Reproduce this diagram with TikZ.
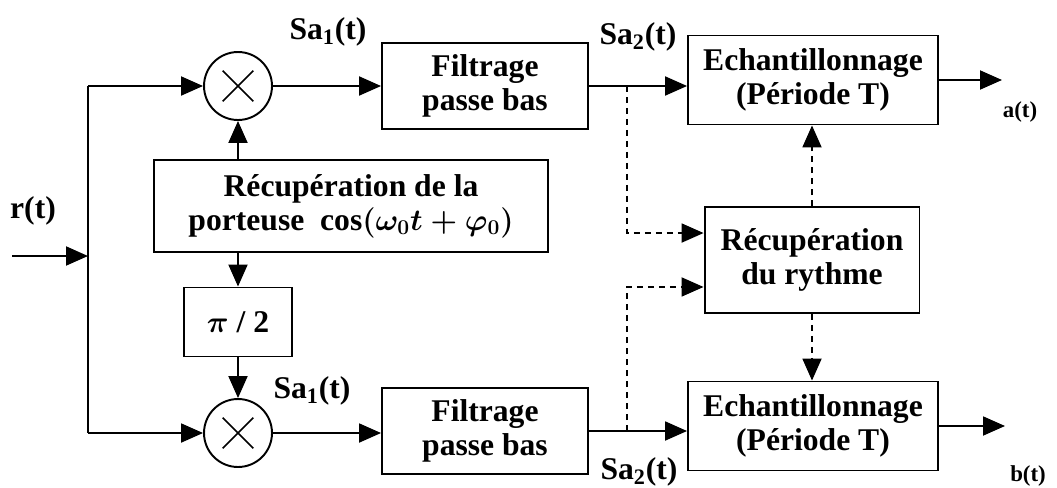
\documentclass[tikz,border=0pt]{standalone}
\usepackage{fontspec}
\setmainfont{Liberation Serif}
\usetikzlibrary{arrows.meta,calc}

\begin{document}
\begin{tikzpicture}[x=0.02cm,y=-0.02cm,
    every node/.style={font=\fontsize{18}{19.5}\selectfont\bfseries},
    blk/.style={draw,line width=1.1pt,align=center,inner sep=0pt},
    mult/.style={draw,circle,line width=1.1pt,minimum size=1.36cm,inner sep=0pt},
    wire/.style={line width=1.1pt},
    sig/.style={wire,-{Triangle[length=4.4mm,width=3.8mm]}},
    dsig/.style={sig,dash pattern=on 1.2mm off 1mm},
    small/.style={font=\fontsize{13}{15}\selectfont\bfseries}]
  \useasboundingbox (0,0) rectangle (1057,487);

  % blocs
  \node[mult] (m1) at (238,86) {};
  \node[mult] (m2) at (238,433) {};
  \node[blk,minimum width=7.88cm,minimum height=1.84cm] (port) at (351,206)
    {R\'ecup\'eration de la\\ porteuse\ \ cos{\boldmath$\bigl(\omega_0 t + \varphi_0\bigr)$}};
  \node[blk,minimum width=2.16cm,minimum height=1.38cm] (dephase) at (238,322) {{\boldmath$\pi$} / 2};
  \node[blk,minimum width=4.12cm,minimum height=1.72cm] (filt1) at (485,86) {Filtrage\\ passe bas};
  \node[blk,minimum width=4.12cm,minimum height=1.72cm] (filt2) at (485,431) {Filtrage\\ passe bas};
  \node[blk,minimum width=5.0cm,minimum height=1.78cm] (ech1) at (813,80) {Echantillonnage\\ (P\'eriode T)};
  \node[blk,minimum width=5.0cm,minimum height=1.78cm] (ech2) at (813,426) {Echantillonnage\\ (P\'eriode T)};
  \node[blk,minimum width=4.3cm,minimum height=2.12cm] (rythme) at (812,260) {R\'ecup\'eration\\ du rythme};

  % croix des multiplieurs
  \foreach \m in {m1,m2}{
    \draw[line width=0.9pt] ($(\m)!0.62!(\m.north west)$) -- ($(\m)!0.62!(\m.south east)$);
    \draw[line width=0.9pt] ($(\m)!0.62!(\m.north east)$) -- ($(\m)!0.62!(\m.south west)$);
  }

  % points de jonction
  \coordinate (rin) at (12,256);
  \coordinate (jm) at (88,256);
  \coordinate (jt) at (88,86);
  \coordinate (jb) at (88,433);
  \coordinate (dt) at (627,86);
  \coordinate (db) at (627,431);
  \coordinate (outa) at (1002,80);
  \coordinate (outb) at (1005,426);

  % signaux
  \draw[sig] (rin) -- (jm);
  \draw[wire] (jt) -- (jb);
  \draw[sig] (jt) -- (m1);
  \draw[sig] (jb) -- (m2);
  \draw[sig] (port.north -| m1) -- (m1);
  \draw[sig] (port.south -| dephase) -- (dephase);
  \draw[sig] (dephase) -- (m2);
  \draw[sig] (m1) -- (filt1);
  \draw[sig] (m2.east) -- (m2.east -| filt2.west);
  \draw[sig] (filt1.east) -- (filt1.east -| ech1.west);
  \draw[sig] (filt2.east) -- (filt2.east -| ech2.west);
  \draw[sig] (ech1) -- (outa);
  \draw[sig] (ech2) -- (outb);

  % horloge
  \draw[dsig] (dt) |- ($(rythme.west)!0.5!(rythme.north west)$);
  \draw[dsig] (db) |- ($(rythme.west)!0.5!(rythme.south west)$);
  \draw[dsig] (rythme.north) -- (rythme.north |- ech1.south);
  \draw[dsig] (rythme.south) -- (rythme.south |- ech2.north);

  % etiquettes
  \node (rlab) at (33,211) {r(t)};
  \node (sa1h) at (328,32) {Sa\textsubscript{1}(t)};
  \node (sa1b) at (312,391) {Sa\textsubscript{1}(t)};
  \node (sa2h) at (638,37) {Sa\textsubscript{2}(t)};
  \node (sa2b) at (639,472) {Sa\textsubscript{2}(t)};
  \node[small] (alab) at (1020,112) {a(t)};
  \node[small] (blab) at (1028,476) {b(t)};
\end{tikzpicture}
\end{document}
